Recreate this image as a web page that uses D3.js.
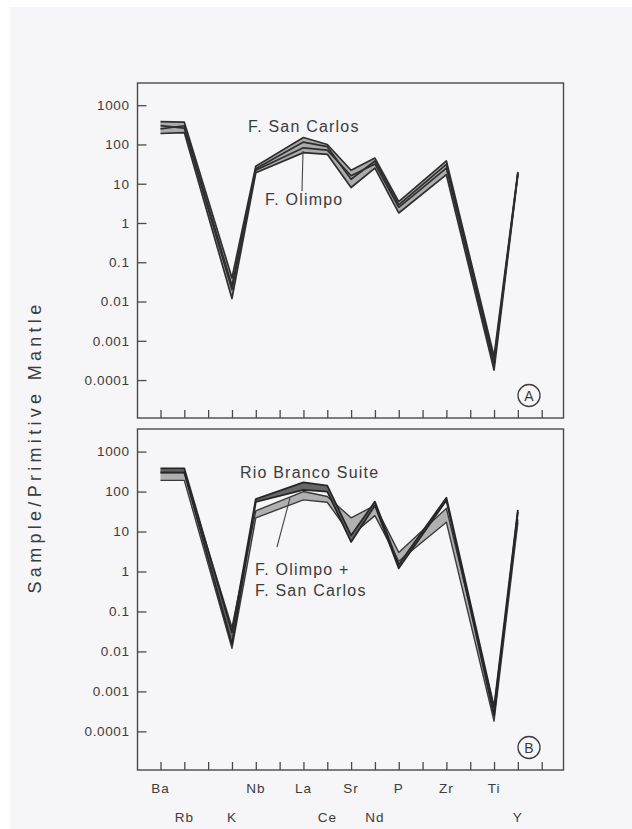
<!DOCTYPE html>
<html>
<head>
<meta charset="utf-8">
<script src="https://cdn.jsdelivr.net/npm/d3@7"></script>
<style>
  html, body { margin: 0; padding: 0; background: #fff; }
  svg { display: block; }
  text { font-family: "Liberation Sans", Arial, sans-serif; fill: #3c3c3c; }
</style>
</head>
<body>
<svg id="chart" width="632" height="829"></svg>
<script>
// element slots on the x axis (blank = tick with no element)
const slots = ["Ba","Rb","","K","Nb","","La","Ce","Sr","Nd","P","","Zr","","Ti","Y",""];
const lowerRow = ["Rb","K","Ce","Nd","Y"];
const yTicks = [1000, 100, 10, 1, 0.1, 0.01, 0.001, 0.0001];

// panel A - F. San Carlos (upper) and F. Olimpo (lower) samples
const sanCarlosHi = [380, 370, null, 0.04, 28, null, 150, 100, 22, 45, 3.5, null, 38, null, 0.0004, 20, null];
const sanCarlosLo = [250, 300, null, 0.025, 24, null, 115, 88, 13, 38, 2.9, null, 31, null, 0.0003, 19, null];
const olimpoHi    = [300, 260, null, 0.02, 22, null, 82, 72, 16, 32, 2.5, null, 25, null, 0.00025, 18, null];
const olimpoLo    = [190, 200, null, 0.012, 19, null, 62, 56, 8, 25, 1.8, null, 17, null, 0.00018, 17, null];

// panel B - Rio Branco Suite vs. field of F. Olimpo + F. San Carlos
const rioBrancoHi = [380, 380, null, 0.03, 65, null, 170, 140, 8, 56, 1.5, null, 70, null, 0.0004, 35, null];
const rioBrancoLo = [300, 300, null, 0.015, 55, null, 110, 100, 5.5, 45, 1.2, null, 60, null, 0.00025, 31, null];
const fieldHi     = [300, 300, null, 0.04, 33, null, 100, 75, 22, 45, 3, null, 38, null, 0.0004, 20, null];
const fieldLo     = [190, 190, null, 0.012, 22, null, 62, 54, 8, 25, 1.8, null, 17, null, 0.00018, 17, null];

const svg = d3.select("#chart");

svg.append("rect")
  .attr("x", 10).attr("y", 7)
  .attr("width", 622).attr("height", 822)
  .attr("fill", "#f6f5f7");

const x = d3.scalePoint()
  .domain(d3.range(slots.length))
  .range([160.5, 541.7]);

const left = 137.5, right = 563.5;

function pts(arr) {
  return arr.map((v, i) => [i, v]).filter(d => d[1] != null);
}

function drawPanel(top, bottom, letter) {
  const y = d3.scaleLog()
    .domain([Math.pow(10, -4.966), Math.pow(10, 3.565)])
    .range([bottom, top]);

  const g = svg.append("g");

  g.append("rect")
    .attr("x", left).attr("y", top)
    .attr("width", right - left).attr("height", bottom - top)
    .attr("fill", "none")
    .attr("stroke", "#4a4a4a")
    .attr("stroke-width", 1.4);

  const yAxis = d3.axisLeft(y)
    .tickValues(yTicks)
    .tickSize(-9)
    .tickPadding(8)
    .tickFormat(d => d >= 1 ? d3.format("d")(d) : String(d));

  g.append("g")
    .attr("transform", `translate(${left},0)`)
    .call(yAxis)
    .call(a => a.select(".domain").remove())
    .call(a => a.selectAll("line").attr("stroke", "#4a4a4a").attr("stroke-width", 1.3))
    .call(a => a.selectAll("text")
      .attr("fill", "#3c3c3c")
      .style("font-size", "13.5px")
      .style("letter-spacing", "0.6px")
      .style("font-family", "'Liberation Sans', Arial, sans-serif"));

  const xAxis = d3.axisBottom(x)
    .tickSize(-8)
    .tickFormat("");

  g.append("g")
    .attr("transform", `translate(0,${bottom})`)
    .call(xAxis)
    .call(a => a.select(".domain").remove())
    .call(a => a.selectAll("line").attr("stroke", "#4a4a4a").attr("stroke-width", 1.3));

  g.append("circle")
    .attr("cx", 529).attr("cy", bottom - 22.5)
    .attr("r", 11)
    .attr("fill", "none")
    .attr("stroke", "#3c3c3c")
    .attr("stroke-width", 1.3);
  g.append("text")
    .attr("x", 529).attr("y", bottom - 17.5)
    .attr("text-anchor", "middle")
    .style("font-size", "14px")
    .text(letter);

  return { g, y };
}

function band(g, y, hi, lo, fill) {
  const area = d3.area()
    .x(d => x(d[0]))
    .y0(d => y(d[1]))
    .y1(d => y(d[2]));
  const data = hi.map((v, i) => [i, lo[i], v]).filter(d => d[2] != null);
  g.append("path")
    .datum(data)
    .attr("d", area)
    .attr("fill", fill)
    .attr("stroke", "none");
}

function line(g, y, arr, color, width) {
  const gen = d3.line()
    .x(d => x(d[0]))
    .y(d => y(d[1]));
  g.append("path")
    .datum(pts(arr))
    .attr("d", gen)
    .attr("fill", "none")
    .attr("stroke", color)
    .attr("stroke-width", width)
    .attr("stroke-linejoin", "round");
}

// ---- panel A
const pA = drawPanel(83, 418, "A");
band(pA.g, pA.y, sanCarlosHi, olimpoLo, "#ababab");
[sanCarlosHi, sanCarlosLo, olimpoHi, olimpoLo].forEach(s => line(pA.g, pA.y, s, "#2e2e2e", 1.7));

pA.g.append("line")
  .attr("x1", 303).attr("y1", 151)
  .attr("x2", 302).attr("y2", 191)
  .attr("stroke", "#444").attr("stroke-width", 1.1);
pA.g.append("text")
  .attr("x", 248).attr("y", 132)
  .style("font-size", "16px").style("letter-spacing", "1.2px")
  .text("F. San Carlos");
pA.g.append("text")
  .attr("x", 265).attr("y", 205)
  .style("font-size", "16px").style("letter-spacing", "1.2px")
  .text("F. Olimpo");

// ---- panel B
const pB = drawPanel(429, 770, "B");
band(pB.g, pB.y, fieldHi, fieldLo, "#b0b0b0");
line(pB.g, pB.y, fieldHi, "#3a3a3a", 1.4);
line(pB.g, pB.y, fieldLo, "#3a3a3a", 1.4);
band(pB.g, pB.y, rioBrancoHi, rioBrancoLo, "#666");
line(pB.g, pB.y, rioBrancoHi, "#262626", 1.8);
line(pB.g, pB.y, rioBrancoLo, "#262626", 1.8);

pB.g.append("line")
  .attr("x1", 290).attr("y1", 498)
  .attr("x2", 277).attr("y2", 547)
  .attr("stroke", "#444").attr("stroke-width", 1.1);
pB.g.append("text")
  .attr("x", 240).attr("y", 478)
  .style("font-size", "16px").style("letter-spacing", "1.2px")
  .text("Rio Branco Suite");
pB.g.append("text")
  .attr("x", 255).attr("y", 575)
  .style("font-size", "16px").style("letter-spacing", "1.2px")
  .text("F. Olimpo +");
pB.g.append("text")
  .attr("x", 255).attr("y", 596)
  .style("font-size", "16px").style("letter-spacing", "1.2px")
  .text("F. San Carlos");

// element labels under panel B, staggered in two rows
svg.append("g")
  .selectAll("text")
  .data(slots.map((s, i) => [s, i]).filter(d => d[0] !== ""))
  .join("text")
  .attr("x", d => x(d[1]))
  .attr("y", d => lowerRow.includes(d[0]) ? 822 : 793)
  .attr("text-anchor", "middle")
  .style("font-size", "13.5px")
  .style("letter-spacing", "1px")
  .text(d => d[0]);

// y-axis title
svg.append("text")
  .attr("transform", "translate(41,447) rotate(-90)")
  .attr("text-anchor", "middle")
  .style("font-size", "18px")
  .style("letter-spacing", "4.3px")
  .attr("fill", "#4a4a4a")
  .text("Sample/Primitive Mantle");
</script>
</body>
</html>
